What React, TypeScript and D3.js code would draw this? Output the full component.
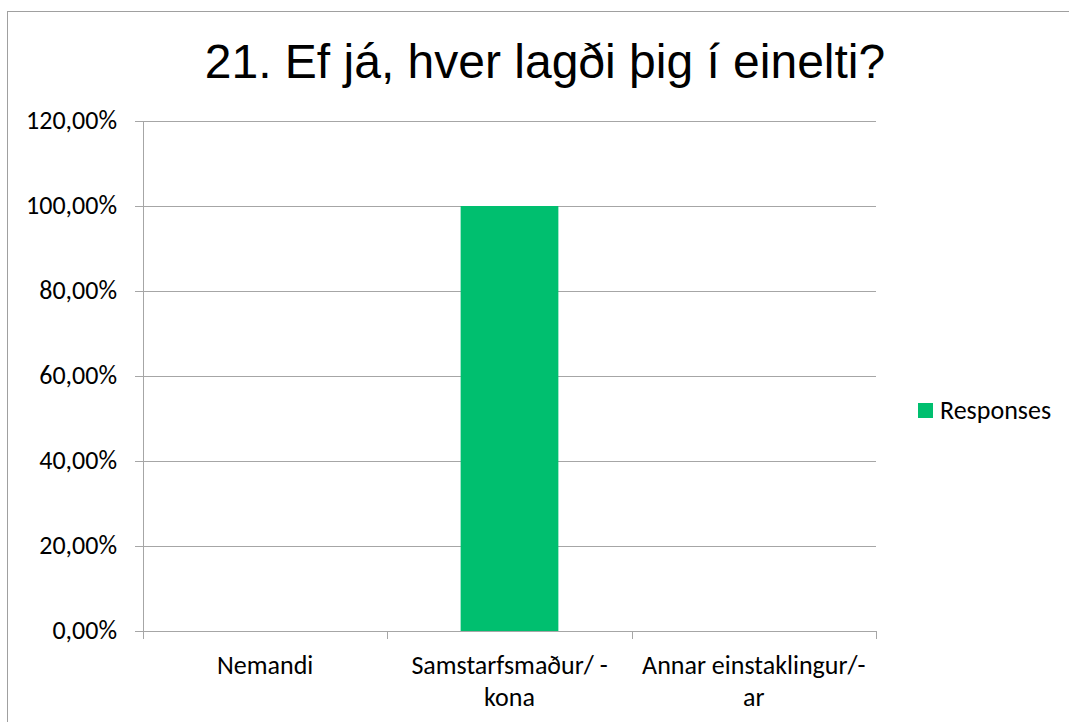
import React from "react";
import * as d3 from "d3";

// 21. Ef já, hver lagði þig í einelti?
const categories = ["Nemandi", "Samstarfsmaður/ - kona", "Annar einstaklingur/- ar"];
const categoryLines = [["Nemandi"], ["Samstarfsmaður/ -", "kona"], ["Annar einstaklingur/-", "ar"]];
const responses = [0, 1, 0];
const yTicks = [0, 0.2, 0.4, 0.6, 0.8, 1, 1.2];
const seriesName = "Responses";
const title = "21. Ef já, hver lagði þig í einelti?";

const W = 1069;
const H = 722;
const plot = { left: 143, right: 876, top: 121, bottom: 631 };
const barColor = "#00BF6F";
const gridColor = "#A6A6A6";
const labelFont = "Carlito, Calibri, Lato, 'Open Sans', sans-serif";
const labelSize = 26;

export default function App() {
  const x = d3
    .scaleBand<string>()
    .domain(categories)
    .range([plot.left, plot.right])
    .paddingInner(0.6)
    .paddingOuter(0.3);

  const band = d3.scaleBand<string>().domain(categories).range([plot.left, plot.right]);

  const y = d3.scaleLinear().domain([0, 1.2]).range([plot.bottom, plot.top]);

  const fmt = (v: number) => (v * 100).toFixed(2).replace(".", ",") + "%";

  const boundaries = categories.map((c) => band(c) as number).concat([plot.right]);

  return (
    <svg
      width={W}
      height={H}
      style={{ position: "absolute", left: 0, top: 0, background: "#fff" }}
    >
      <rect x={7.5} y={11.5} width={1200} height={900} fill="#fff" stroke="#A0A0A0" strokeWidth={1} />

      <text
        x={545}
        y={78}
        textAnchor="middle"
        fontFamily="'Liberation Sans', Arial, sans-serif"
        fontSize={48}
        fill="#000"
      >
        {title}
      </text>

      {/* gridlines + left ticks */}
      {yTicks.map((t) => (
        <g key={t}>
          <line
            x1={plot.left - 8}
            x2={plot.right}
            y1={Math.round(y(t)) + 0.5}
            y2={Math.round(y(t)) + 0.5}
            stroke={gridColor}
            strokeWidth={1}
          />
          <text
            x={117}
            y={y(t) + 8}
            textAnchor="end"
            fontFamily={labelFont}
            fontSize={labelSize}
            fill="#000"
          >
            {fmt(t)}
          </text>
        </g>
      ))}

      {/* y axis line */}
      <line
        x1={plot.left + 0.5}
        x2={plot.left + 0.5}
        y1={plot.top}
        y2={plot.bottom + 8}
        stroke={gridColor}
        strokeWidth={1}
      />

      {/* category ticks */}
      {boundaries.map((b, i) => (
        <line
          key={i}
          x1={Math.round(b) + 0.5}
          x2={Math.round(b) + 0.5}
          y1={plot.bottom}
          y2={plot.bottom + 8}
          stroke={gridColor}
          strokeWidth={1}
        />
      ))}

      {/* bars */}
      {categories.map((c, i) =>
        responses[i] > 0 ? (
          <rect
            key={c}
            x={x(c)}
            y={y(responses[i])}
            width={x.bandwidth()}
            height={y(0) - y(responses[i])}
            fill={barColor}
          />
        ) : null
      )}

      {/* category labels */}
      {categories.map((c, i) => (
        <text
          key={c}
          x={(band(c) as number) + band.bandwidth() / 2}
          y={674}
          textAnchor="middle"
          fontFamily={labelFont}
          fontSize={labelSize}
          fill="#000"
        >
          {categoryLines[i].map((ln, j) => (
            <tspan key={j} x={(band(c) as number) + band.bandwidth() / 2} dy={j === 0 ? 0 : 32}>
              {ln}
            </tspan>
          ))}
        </text>
      ))}

      {/* legend */}
      <rect x={918} y={403} width={15} height={15} fill={barColor} />
      <text x={940} y={419} fontFamily={labelFont} fontSize={labelSize} fill="#000">
        {seriesName}
      </text>
    </svg>
  );
}
